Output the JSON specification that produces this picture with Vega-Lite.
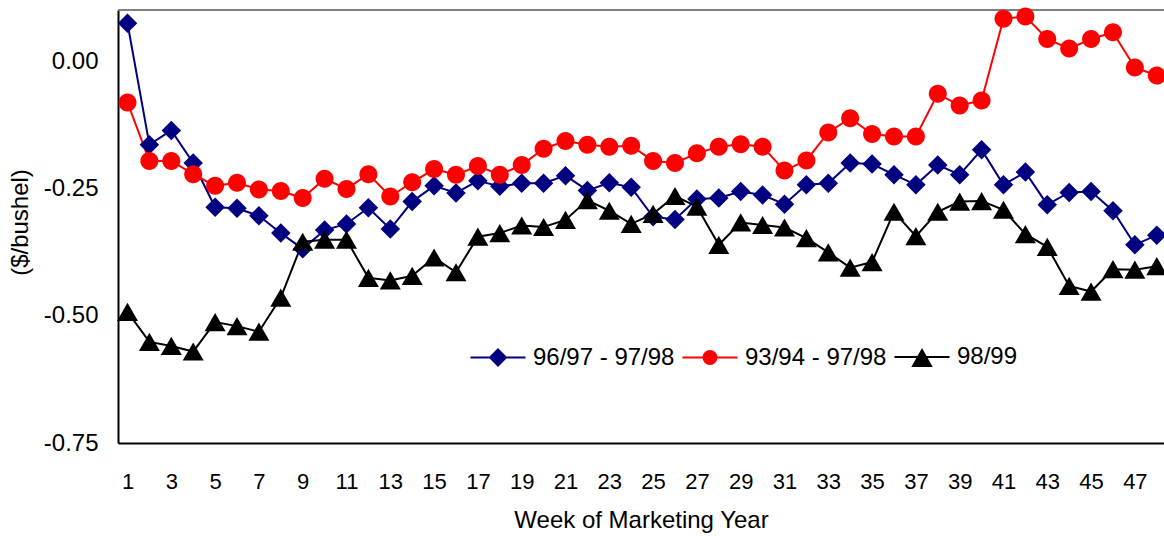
{
  "$schema": "https://vega.github.io/schema/vega-lite/v6.json",
  "width": 1046,
  "height": 433,
  "autosize": {"type": "none"},
  "padding": {"left": 118, "top": 10, "right": 0, "bottom": 93},
  "background": "white",
  "config": {"view": {"stroke": null}, "font": "Liberation Sans"},
  "data": {"values": [
    {"week":1,"series":"96/97 - 97/98","value":0.076},{"week":2,"series":"96/97 - 97/98","value":-0.163},{"week":3,"series":"96/97 - 97/98","value":-0.135},{"week":4,"series":"96/97 - 97/98","value":-0.199},{"week":5,"series":"96/97 - 97/98","value":-0.286},{"week":6,"series":"96/97 - 97/98","value":-0.288},{"week":7,"series":"96/97 - 97/98","value":-0.303},{"week":8,"series":"96/97 - 97/98","value":-0.337},{"week":9,"series":"96/97 - 97/98","value":-0.368},{"week":10,"series":"96/97 - 97/98","value":-0.331},{"week":11,"series":"96/97 - 97/98","value":-0.319},{"week":12,"series":"96/97 - 97/98","value":-0.287},{"week":13,"series":"96/97 - 97/98","value":-0.329},{"week":14,"series":"96/97 - 97/98","value":-0.275},{"week":15,"series":"96/97 - 97/98","value":-0.244},{"week":16,"series":"96/97 - 97/98","value":-0.258},{"week":17,"series":"96/97 - 97/98","value":-0.234},{"week":18,"series":"96/97 - 97/98","value":-0.245},{"week":19,"series":"96/97 - 97/98","value":-0.239},{"week":20,"series":"96/97 - 97/98","value":-0.239},{"week":21,"series":"96/97 - 97/98","value":-0.224},{"week":22,"series":"96/97 - 97/98","value":-0.253},{"week":23,"series":"96/97 - 97/98","value":-0.238},{"week":24,"series":"96/97 - 97/98","value":-0.247},{"week":25,"series":"96/97 - 97/98","value":-0.305},{"week":26,"series":"96/97 - 97/98","value":-0.310},{"week":27,"series":"96/97 - 97/98","value":-0.270},{"week":28,"series":"96/97 - 97/98","value":-0.268},{"week":29,"series":"96/97 - 97/98","value":-0.255},{"week":30,"series":"96/97 - 97/98","value":-0.262},{"week":31,"series":"96/97 - 97/98","value":-0.280},{"week":32,"series":"96/97 - 97/98","value":-0.242},{"week":33,"series":"96/97 - 97/98","value":-0.239},{"week":34,"series":"96/97 - 97/98","value":-0.199},{"week":35,"series":"96/97 - 97/98","value":-0.201},{"week":36,"series":"96/97 - 97/98","value":-0.222},{"week":37,"series":"96/97 - 97/98","value":-0.242},{"week":38,"series":"96/97 - 97/98","value":-0.203},{"week":39,"series":"96/97 - 97/98","value":-0.222},{"week":40,"series":"96/97 - 97/98","value":-0.173},{"week":41,"series":"96/97 - 97/98","value":-0.242},{"week":42,"series":"96/97 - 97/98","value":-0.217},{"week":43,"series":"96/97 - 97/98","value":-0.281},{"week":44,"series":"96/97 - 97/98","value":-0.257},{"week":45,"series":"96/97 - 97/98","value":-0.255},{"week":46,"series":"96/97 - 97/98","value":-0.293},{"week":47,"series":"96/97 - 97/98","value":-0.360},{"week":48,"series":"96/97 - 97/98","value":-0.341},
    {"week":1,"series":"93/94 - 97/98","value":-0.080},{"week":2,"series":"93/94 - 97/98","value":-0.195},{"week":3,"series":"93/94 - 97/98","value":-0.195},{"week":4,"series":"93/94 - 97/98","value":-0.221},{"week":5,"series":"93/94 - 97/98","value":-0.244},{"week":6,"series":"93/94 - 97/98","value":-0.238},{"week":7,"series":"93/94 - 97/98","value":-0.251},{"week":8,"series":"93/94 - 97/98","value":-0.254},{"week":9,"series":"93/94 - 97/98","value":-0.268},{"week":10,"series":"93/94 - 97/98","value":-0.230},{"week":11,"series":"93/94 - 97/98","value":-0.250},{"week":12,"series":"93/94 - 97/98","value":-0.221},{"week":13,"series":"93/94 - 97/98","value":-0.265},{"week":14,"series":"93/94 - 97/98","value":-0.237},{"week":15,"series":"93/94 - 97/98","value":-0.211},{"week":16,"series":"93/94 - 97/98","value":-0.222},{"week":17,"series":"93/94 - 97/98","value":-0.205},{"week":18,"series":"93/94 - 97/98","value":-0.222},{"week":19,"series":"93/94 - 97/98","value":-0.203},{"week":20,"series":"93/94 - 97/98","value":-0.171},{"week":21,"series":"93/94 - 97/98","value":-0.156},{"week":22,"series":"93/94 - 97/98","value":-0.163},{"week":23,"series":"93/94 - 97/98","value":-0.167},{"week":24,"series":"93/94 - 97/98","value":-0.165},{"week":25,"series":"93/94 - 97/98","value":-0.195},{"week":26,"series":"93/94 - 97/98","value":-0.199},{"week":27,"series":"93/94 - 97/98","value":-0.180},{"week":28,"series":"93/94 - 97/98","value":-0.167},{"week":29,"series":"93/94 - 97/98","value":-0.162},{"week":30,"series":"93/94 - 97/98","value":-0.167},{"week":31,"series":"93/94 - 97/98","value":-0.214},{"week":32,"series":"93/94 - 97/98","value":-0.194},{"week":33,"series":"93/94 - 97/98","value":-0.139},{"week":34,"series":"93/94 - 97/98","value":-0.111},{"week":35,"series":"93/94 - 97/98","value":-0.142},{"week":36,"series":"93/94 - 97/98","value":-0.147},{"week":37,"series":"93/94 - 97/98","value":-0.147},{"week":38,"series":"93/94 - 97/98","value":-0.063},{"week":39,"series":"93/94 - 97/98","value":-0.086},{"week":40,"series":"93/94 - 97/98","value":-0.076},{"week":41,"series":"93/94 - 97/98","value":0.085},{"week":42,"series":"93/94 - 97/98","value":0.089},{"week":43,"series":"93/94 - 97/98","value":0.045},{"week":44,"series":"93/94 - 97/98","value":0.026},{"week":45,"series":"93/94 - 97/98","value":0.045},{"week":46,"series":"93/94 - 97/98","value":0.058},{"week":47,"series":"93/94 - 97/98","value":-0.011},{"week":48,"series":"93/94 - 97/98","value":-0.027},
    {"week":1,"series":"98/99","value":-0.492},{"week":2,"series":"98/99","value":-0.551},{"week":3,"series":"98/99","value":-0.559},{"week":4,"series":"98/99","value":-0.570},{"week":5,"series":"98/99","value":-0.512},{"week":6,"series":"98/99","value":-0.520},{"week":7,"series":"98/99","value":-0.531},{"week":8,"series":"98/99","value":-0.464},{"week":9,"series":"98/99","value":-0.354},{"week":10,"series":"98/99","value":-0.350},{"week":11,"series":"98/99","value":-0.350},{"week":12,"series":"98/99","value":-0.425},{"week":13,"series":"98/99","value":-0.430},{"week":14,"series":"98/99","value":-0.421},{"week":15,"series":"98/99","value":-0.385},{"week":16,"series":"98/99","value":-0.414},{"week":17,"series":"98/99","value":-0.344},{"week":18,"series":"98/99","value":-0.337},{"week":19,"series":"98/99","value":-0.322},{"week":20,"series":"98/99","value":-0.325},{"week":21,"series":"98/99","value":-0.311},{"week":22,"series":"98/99","value":-0.272},{"week":23,"series":"98/99","value":-0.293},{"week":24,"series":"98/99","value":-0.319},{"week":25,"series":"98/99","value":-0.299},{"week":26,"series":"98/99","value":-0.264},{"week":27,"series":"98/99","value":-0.285},{"week":28,"series":"98/99","value":-0.360},{"week":29,"series":"98/99","value":-0.316},{"week":30,"series":"98/99","value":-0.321},{"week":31,"series":"98/99","value":-0.326},{"week":32,"series":"98/99","value":-0.347},{"week":33,"series":"98/99","value":-0.375},{"week":34,"series":"98/99","value":-0.405},{"week":35,"series":"98/99","value":-0.394},{"week":36,"series":"98/99","value":-0.295},{"week":37,"series":"98/99","value":-0.343},{"week":38,"series":"98/99","value":-0.295},{"week":39,"series":"98/99","value":-0.275},{"week":40,"series":"98/99","value":-0.274},{"week":41,"series":"98/99","value":-0.291},{"week":42,"series":"98/99","value":-0.339},{"week":43,"series":"98/99","value":-0.364},{"week":44,"series":"98/99","value":-0.441},{"week":45,"series":"98/99","value":-0.452},{"week":46,"series":"98/99","value":-0.408},{"week":47,"series":"98/99","value":-0.409},{"week":48,"series":"98/99","value":-0.402}
  ]},
  "layer": [
    {
      "data": {"values": [{"top": 0.102}]},
      "mark": {"type": "rule", "color": "#808080", "strokeWidth": 2},
      "encoding": {"y": {"field": "top", "type": "quantitative"}}
    },
    {
      "mark": {"type": "line", "strokeWidth": 2},
      "encoding": {
        "x": {
          "field": "week", "type": "quantitative",
          "scale": {"domain": [0.566, 48.33], "nice": false, "zero": false},
          "axis": {
            "values": [1,3,5,7,9,11,13,15,17,19,21,23,25,27,29,31,33,35,37,39,41,43,45,47],
            "format": "d", "grid": false, "ticks": false, "tickSize": 0,
            "domainColor": "black", "domainWidth": 2,
            "labelFontSize": 22, "labelColor": "black", "labelBaseline": "alphabetic", "labelPadding": 45, "labelFlush": false, "labelOverlap": false,
            "title": "Week of Marketing Year", "titleFontSize": 24, "titleFontWeight": "normal", "titleColor": "black",
            "titleBaseline": "alphabetic", "titleY": 84
          }
        },
        "y": {
          "field": "value", "type": "quantitative",
          "scale": {"domain": [-0.75, 0.102], "nice": false, "zero": false},
          "axis": {
            "values": [0, -0.25, -0.5, -0.75],
            "labelExpr": "(datum.value < 0 ? '-' : '') + format(abs(datum.value), '.2f')",
            "grid": false, "ticks": false, "tickSize": 0,
            "domainColor": "black", "domainWidth": 2,
            "labelFontSize": 24, "labelColor": "black", "labelPadding": 20, "labelFlush": false,
            "title": "($/bushel)", "titleFontSize": 24, "titleFontWeight": "normal", "titleColor": "black",
            "titleX": -86, "titleY": 212
          }
        },
        "color": {
          "field": "series", "type": "nominal",
          "scale": {"domain": ["96/97 - 97/98", "93/94 - 97/98", "98/99"], "range": ["#000080", "#ff0000", "#000000"]},
          "legend": {
            "orient": "none", "direction": "horizontal", "legendX": 368, "legendY": 335,
            "title": null, "padding": 0, "labelFontSize": 24, "labelColor": "black", "labelFont": "Liberation Sans",
            "symbolSize": 100, "symbolStrokeWidth": 2, "labelOffset": 23, "columnPadding": 3,
            "encoding": {
              "symbols": {
                "shape": {"value": {"expr": "datum.value === '98/99' ? 'M-5.5,0H5.5M0,-1.4L1.8,1.8L-1.8,1.8Z' : datum.value === '96/97 - 97/98' ? 'M-5.5,0H5.5M0,-1.6L1.6,0L0,1.6L-1.6,0Z' : 'M-5.5,0H5.5M-1.3,0A1.3,1.3,0,1,0,1.3,0A1.3,1.3,0,1,0,-1.3,0Z'"}},
                "fill": {"value": {"expr": "scale('color', datum.value)"}},
                "stroke": {"value": {"expr": "scale('color', datum.value)"}},
                "strokeWidth": {"value": 2},
                "opacity": {"value": 1}
              }
            }
          }
        }
      }
    },
    {
      "transform": [{"filter": "datum.series === '96/97 - 97/98'"}],
      "mark": {"type": "point", "filled": true, "opacity": 1, "size": 100, "shape": "M0,-1.95L1.95,0L0,1.95L-1.95,0Z"},
      "encoding": {
        "x": {"field": "week", "type": "quantitative"},
        "y": {"field": "value", "type": "quantitative"},
        "color": {"field": "series", "type": "nominal"}
      }
    },
    {
      "transform": [{"filter": "datum.series === '93/94 - 97/98'"}],
      "mark": {"type": "point", "filled": true, "opacity": 1, "size": 100, "shape": "M-1.8,0A1.8,1.8,0,1,0,1.8,0A1.8,1.8,0,1,0,-1.8,0Z"},
      "encoding": {
        "x": {"field": "week", "type": "quantitative"},
        "y": {"field": "value", "type": "quantitative"},
        "color": {"field": "series", "type": "nominal"}
      }
    },
    {
      "transform": [{"filter": "datum.series === '98/99'"}],
      "mark": {"type": "point", "filled": true, "opacity": 1, "size": 100, "shape": "M0,-1.82L2.1,1.82L-2.1,1.82Z"},
      "encoding": {
        "x": {"field": "week", "type": "quantitative"},
        "y": {"field": "value", "type": "quantitative"},
        "color": {"field": "series", "type": "nominal"}
      }
    }
  ]
}
